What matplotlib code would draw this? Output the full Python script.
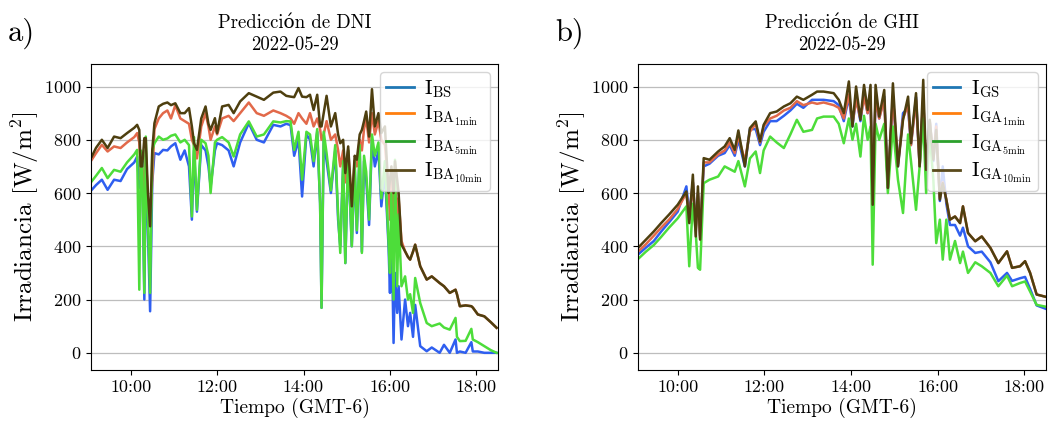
import numpy as np
import pandas as pd
import matplotlib
matplotlib.use("Agg")
import matplotlib.pyplot as plt
import matplotlib.dates as mdates
from matplotlib.lines import Line2D

plt.rcParams['font.family'] = ['cmr10', 'DejaVu Serif']
plt.rcParams['mathtext.fontset'] = 'cm'
plt.rcParams['axes.formatter.use_mathtext'] = True

# DATOS DNI (panel a)
horas_dni = ["09:06", "09:12", "09:20", "09:28", "09:37", "09:46", "09:55", "10:05", "10:09", "10:12",
             "10:14", "10:16", "10:19", "10:21", "10:24", "10:27", "10:30", "10:33", "10:39", "10:45",
             "10:51", "10:56", "11:02", "11:09", "11:15", "11:21", "11:25", "11:28", "11:32", "11:38",
             "11:44", "11:48", "11:51", "11:57", "12:00", "12:07", "12:16", "12:23", "12:32", "12:44",
             "12:55", "13:05", "13:18", "13:28", "13:36", "13:42", "13:47", "13:53", "13:58", "14:04",
             "14:09", "14:14", "14:19", "14:23", "14:25", "14:28", "14:32", "14:38", "14:44", "14:48",
             "14:51", "14:55", "14:58", "15:02", "15:07", "15:11", "15:14", "15:18", "15:21", "15:24",
             "15:27", "15:31", "15:35", "15:39", "15:44", "15:48", "15:53", "15:58", "16:00", "16:02",
             "16:05", "16:07", "16:10", "16:12", "16:16", "16:21", "16:25", "16:28", "16:32", "16:35",
             "16:42", "16:51", "16:58", "17:09", "17:15", "17:23", "17:31", "17:33", "17:37", "17:45",
             "17:53", "17:55", "18:02", "18:11", "18:20", "18:28"]
I_BS = [612, 630, 650, 612, 650, 645, 690, 715, 737, 620,
        700, 720, 200, 740, 450, 156, 640, 750, 745, 762,
        760, 775, 787, 725, 760, 700, 500, 760, 530, 780,
        760, 700, 625, 760, 787, 780, 760, 700, 790, 862,
        800, 790, 856, 850, 860, 855, 740, 800, 587, 820,
        800, 700, 830, 560, 169, 800, 720, 600, 760, 500,
        400, 700, 337, 740, 400, 700, 450, 760, 380, 720,
        650, 480, 800, 700, 760, 550, 680, 400, 225, 500,
        37, 300, 150, 250, 50, 200, 100, 150, 60, 180,
        25, 6, 20, 0, 30, 0, 50, 0, 5, 0,
        40, 5, 5, 0, 0, 0]
I_BA1 = [725, 750, 781, 756, 775, 769, 790, 810, 825, 790,
         650, 700, 600, 760, 560, 480, 650, 840, 880, 900,
         910, 880, 930, 880, 870, 860, 800, 780, 730, 850,
         900, 850, 800, 850, 820, 880, 890, 870, 900, 940,
         900, 890, 910, 900, 890, 880, 860, 900, 880, 860,
         900, 850, 880, 840, 800, 820, 870, 800, 820, 760,
         700, 760, 640, 760, 560, 720, 700, 800, 760, 840,
         880, 790, 900, 820, 870, 800, 780, 620, 500, 650,
         500, 700, 500, 580, 420, 381, 360, 350, 380, 406,
         325, 275, 287, 262, 250, 225, 237, 220, 175, 178,
         175, 170, 144, 137, 115, 94]
I_BA5 = [644, 665, 694, 656, 687, 680, 715, 745, 762, 237,
         760, 725, 225, 812, 500, 225, 760, 787, 812, 800,
         805, 815, 820, 790, 800, 780, 512, 810, 537, 800,
         787, 740, 600, 790, 800, 810, 790, 737, 820, 869,
         812, 820, 869, 865, 870, 869, 762, 830, 650, 830,
         820, 720, 840, 562, 169, 830, 750, 610, 780, 520,
         375, 720, 337, 760, 400, 720, 460, 780, 375, 740,
         680, 500, 820, 740, 790, 580, 720, 420, 300, 600,
         200, 725, 250, 520, 250, 287, 200, 220, 150, 281,
         187, 112, 100, 110, 95, 87, 131, 60, 44, 45,
         90, 50, 40, 25, 10, 0]
I_BA10 = [737, 770, 800, 769, 812, 806, 825, 845, 856, 837,
          700, 700, 806, 806, 600, 475, 760, 862, 925, 935,
          940, 930, 937, 900, 900, 919, 850, 787, 762, 880,
          925, 860, 837, 881, 825, 925, 931, 900, 944, 975,
          962, 950, 977, 981, 965, 962, 960, 994, 962, 960,
          969, 912, 969, 850, 850, 900, 965, 850, 900, 820,
          787, 800, 675, 775, 550, 740, 725, 820, 837, 870,
          906, 812, 990, 850, 900, 825, 850, 600, 650, 700,
          600, 719, 650, 600, 406, 381, 360, 350, 380, 406,
          325, 275, 287, 262, 250, 225, 237, 220, 175, 178,
          175, 170, 144, 137, 115, 94]

# DATOS GHI (panel b)
horas_ghi = ["09:05", "09:16", "09:27", "09:37", "09:48", "10:00", "10:12", "10:16", "10:21", "10:25",
             "10:28", "10:31", "10:36", "10:44", "10:56", "11:05", "11:12", "11:19", "11:24", "11:33",
             "11:40", "11:48", "11:54", "11:59", "12:08", "12:17", "12:27", "12:36", "12:45", "12:54",
             "13:06", "13:13", "13:22", "13:36", "13:43", "13:50", "13:57", "14:02", "14:07", "14:13",
             "14:18", "14:23", "14:27", "14:30", "14:34", "14:39", "14:46", "14:51", "14:58", "15:05",
             "15:12", "15:19", "15:23", "15:30", "15:35", "15:40", "15:44", "15:49", "15:54", "15:58",
             "16:03", "16:07", "16:12", "16:17", "16:24", "16:31", "16:35", "16:42", "16:52", "17:01",
             "17:13", "17:24", "17:36", "17:43", "17:54", "18:01", "18:08", "18:17", "18:30"]
I_GS = [369, 395, 420, 455, 490, 530, 625, 520, 640, 470,
        600, 440, 700, 710, 740, 750, 780, 740, 800, 700,
        840, 840, 780, 830, 870, 870, 890, 910, 935, 920,
        950, 950, 950, 945, 930, 870, 960, 850, 960, 870,
        970, 900, 960, 560, 960, 880, 962, 620, 962, 700,
        900, 920, 780, 960, 700, 950, 680, 870, 720, 860,
        570, 700, 560, 480, 480, 440, 470, 400, 375, 380,
        340, 269, 300, 270, 280, 285, 240, 178, 165]
I_GA1 = [380, 408, 440, 470, 500, 540, 600, 500, 640, 460,
         600, 430, 715, 715, 745, 760, 790, 750, 815, 720,
         830, 860, 790, 850, 880, 890, 910, 920, 945, 930,
         940, 935, 940, 930, 920, 880, 970, 860, 950, 880,
         960, 900, 960, 560, 960, 880, 950, 620, 960, 710,
         880, 930, 780, 950, 700, 960, 690, 870, 730, 850,
         580, 640, 575, 500, 512, 487, 550, 450, 419, 437,
         394, 337, 381, 319, 325, 344, 300, 219, 210]
I_GA5 = [352, 380, 405, 435, 470, 505, 550, 325, 560, 450,
         319, 312, 637, 650, 662, 700, 690, 680, 720, 625,
         730, 756, 675, 760, 812, 790, 769, 820, 875, 830,
         837, 880, 887, 887, 860, 787, 880, 800, 860, 737,
         890, 800, 850, 331, 860, 800, 860, 600, 850, 650,
         525, 820, 720, 537, 700, 880, 600, 820, 650, 412,
         500, 350, 500, 350, 420, 337, 380, 300, 340, 325,
         300, 250, 290, 250, 262, 268, 230, 180, 173]
I_GA10 = [394, 425, 456, 487, 519, 556, 606, 487, 669, 437,
          625, 425, 731, 725, 756, 775, 806, 762, 835, 700,
          844, 869, 794, 856, 900, 906, 925, 937, 962, 950,
          969, 981, 981, 975, 950, 900, 1019, 850, 1000, 875,
          1006, 912, 1006, 556, 1006, 887, 987, 619, 1012, 700,
          875, 962, 787, 975, 700, 1025, 687, 875, 725, 837,
          575, 637, 575, 500, 512, 487, 550, 450, 419, 437,
          394, 337, 381, 319, 325, 344, 300, 219, 210]

colores_linea = ['#2f5ff0', '#e2694a', '#4ddd3a', '#4e3f0f']
colores_leyenda = ['#1f77b4', '#ff7f0e', '#2ca02c', '#5a4a1c']


def panel(ax, horas, series, etiquetas, titulo):
    t = pd.to_datetime(["2022-05-29 " + h for h in horas])
    for y, c in zip(series, colores_linea):
        ax.plot(t, y, color=c, lw=1.8)

    ax.set_xlim(pd.Timestamp("2022-05-29 09:05"), pd.Timestamp("2022-05-29 18:30"))
    ax.set_ylim(-65, 1085)
    ax.set_yticks(np.arange(0, 1001, 200))
    ax.xaxis.set_major_locator(mdates.HourLocator(byhour=[10, 12, 14, 16, 18]))
    ax.xaxis.set_major_formatter(mdates.DateFormatter('%H:%M'))
    ax.tick_params(labelsize=13)
    ax.grid(axis='y', color='#bdbdbd', lw=0.9)
    ax.set_axisbelow(True)

    ax.set_xlabel('Tiempo (GMT-6)', fontsize=14, labelpad=2)
    ax.set_ylabel(r'Irradiancia [W/m$^2$]', fontsize=18, labelpad=2)
    ax.set_title(titulo, fontsize=13.5, pad=10, linespacing=1.3)

    handles = [Line2D([0], [0], color=c, lw=2) for c in colores_leyenda]
    ax.legend(handles, etiquetas, loc='upper right', fontsize=15, framealpha=0.8,
              handlelength=1.3, handletextpad=0.5, labelspacing=0.2, borderpad=0.3,
              borderaxespad=0.4)


fig = plt.figure(figsize=(10.5, 4.23), dpi=100)
ax1 = fig.add_axes([0.0867, 0.125, 0.3876, 0.724])
ax2 = fig.add_axes([0.6076, 0.125, 0.3886, 0.724])

panel(ax1, horas_dni, [I_BS, I_BA1, I_BA5, I_BA10],
      [r'$\mathrm{I_{BS}}$', r'$\mathrm{I_{BA_{1min}}}$',
       r'$\mathrm{I_{BA_{5min}}}$', r'$\mathrm{I_{BA_{10min}}}$'],
      'Predicción de DNI\n2022-05-29')
panel(ax2, horas_ghi, [I_GS, I_GA1, I_GA5, I_GA10],
      [r'$\mathrm{I_{GS}}$', r'$\mathrm{I_{GA_{1min}}}$',
       r'$\mathrm{I_{GA_{5min}}}$', r'$\mathrm{I_{GA_{10min}}}$'],
      'Predicción de GHI\n2022-05-29')

# letras de los paneles
fig.text(0.007, 0.92, 'a)', fontsize=22, va='center')
fig.text(0.529, 0.92, 'b)', fontsize=22, va='center')

fig.savefig('out.png', dpi=100)
